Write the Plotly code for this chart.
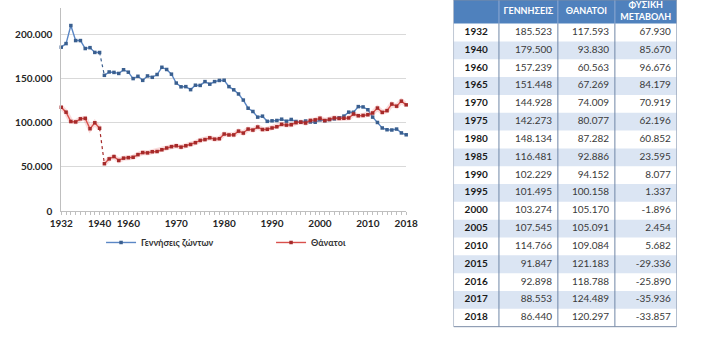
import plotly.graph_objects as go

# Annual series (Greece): 1932-1940 and 1955-2018
years = list(range(1932, 1941)) + list(range(1955, 2019))

births = [
    185523, 189600, 210000, 193000, 193000, 184000, 185000, 179600, 179500,
    153700, 157500, 157000, 155800, 160000, 157239, 150000, 152600, 148000, 153000,
    151448, 154600, 162800, 160300, 155000, 144928, 140700, 140900, 137500, 142500,
    142273, 146600, 143700, 146600, 147900, 148134, 140900, 137300, 132600, 125700,
    116481, 112810, 106392, 107505, 101657, 102229, 102620, 104081, 101799, 103763,
    101495, 100718, 102038, 100894, 100643, 103274, 102282, 103569, 104420, 105655,
    107545, 112042, 111926, 118302, 117933, 114766, 106428, 100371, 94134, 92149,
    91847, 92898, 88553, 86440,
]

deaths = [
    117593, 112000, 101500, 101000, 104500, 105000, 93300, 100000, 93830,
    53700, 59200, 61800, 57400, 60000, 60563, 61000, 64000, 66300, 66000,
    67269, 67500, 69500, 71500, 73000, 74009, 72500, 74000, 75500, 77500,
    80077, 81000, 83000, 81500, 82000, 87282, 86261, 86345, 90586, 88397,
    92886, 91783, 95232, 92407, 92720, 94152, 95498, 98231, 97419, 97807,
    100158, 100740, 99738, 102668, 103304, 105170, 102559, 103915, 105529, 104942,
    105091, 105476, 109895, 107979, 108316, 109084, 111099, 116668, 111794, 113740,
    121183, 118788, 124489, 120297,
]

label_years = [1932, 1940, 1960, 1970, 1980, 1990, 2000, 2010, 2018]
table_years = [1932, 1940, 1960, 1965, 1970, 1975, 1980, 1985, 1990, 1995,
               2000, 2005, 2010, 2015, 2016, 2017, 2018]
table_headers = ["", "ΓΕΝΝΗΣΕΙΣ", "ΘΑΝΑΤΟΙ", "ΦΥΣΙΚΗ<br>ΜΕΤΑΒΟΛΗ"]

BLUE_LINE = "#5B87C5"
BLUE_MARK = "#3A5F8F"
RED_LINE = "#D9504C"
RED_MARK = "#A52A2A"
FONT = "Lato"
W, H = 709, 340

cats = [str(y) for y in years]
gap = years.index(1940)  # last year before the data gap

fig = go.Figure()


def add_series(values, name, line_col, mark_col, glow=False):
    first = slice(0, gap + 1)
    second = slice(gap + 1, None)
    if glow:
        for part in (first, second):
            fig.add_trace(go.Scatter(x=cats[part], y=values[part], mode="lines",
                                     line=dict(color="rgba(230,90,90,0.22)", width=5),
                                     showlegend=False, hoverinfo="skip", cliponaxis=False))
    # dotted link across the missing years
    fig.add_trace(go.Scatter(x=cats[gap:gap + 2], y=values[gap:gap + 2], mode="lines",
                             line=dict(color=mark_col, width=1.2, dash="dot"),
                             showlegend=False, hoverinfo="skip", cliponaxis=False))
    common = dict(mode="lines+markers", line=dict(color=line_col, width=1.4),
                  marker=dict(color=mark_col, size=3.5, symbol="square"),
                  cliponaxis=False, name=f"<b>{name}</b>", legendgroup=name)
    fig.add_trace(go.Scatter(x=cats[first], y=values[first], showlegend=True, **common))
    fig.add_trace(go.Scatter(x=cats[second], y=values[second], showlegend=False, **common))


add_series(births, "Γεννήσεις ζώντων", BLUE_LINE, BLUE_MARK)
add_series(deaths, "Θάνατοι", RED_LINE, RED_MARK, glow=True)

# ---- summary table, drawn on its own pair of axes (units = pixels) ----
def fmt(v):
    return f"{v:,}".replace(",", ".")

idx = [years.index(y) for y in table_years]
t_births = [births[i] for i in idx]
t_deaths = [deaths[i] for i in idx]
t_change = [b - d for b, d in zip(t_births, t_deaths)]

col_w = [47, 61, 59, 64]
edges = [0]
for w in col_w:
    edges.append(edges[-1] + w)
head_h = 24
row_h = 18.15
n_rows = len(table_years)
row_top = [head_h + k * row_h for k in range(n_rows)]
row_mid = [t + row_h / 2 for t in row_top]
table_bottom = head_h + n_rows * row_h
PAD = 6

shapes = []
# header band
shapes.append(dict(type="rect", xref="x2", yref="y2", x0=0, x1=edges[-1], y0=0, y1=head_h,
                   fillcolor="#4F81BD", line=dict(width=0), layer="below"))
# shaded alternate rows
for k, t in enumerate(row_top):
    if k % 2 == 1:
        shapes.append(dict(type="rect", xref="x2", yref="y2", x0=0, x1=edges[-1],
                           y0=t, y1=t + row_h, fillcolor="#DBE5F3",
                           line=dict(width=0), layer="below"))
# column separators
for e in edges[1:-1]:
    shapes.append(dict(type="line", xref="x2", yref="y2", x0=e, x1=e, y0=0, y1=head_h,
                       line=dict(color="#8FAAD3", width=1)))
    shapes.append(dict(type="line", xref="x2", yref="y2", x0=e, x1=e, y0=head_h,
                       y1=table_bottom, line=dict(color="#6F86A6", width=1)))
# outer frame
shapes.append(dict(type="rect", xref="x2", yref="y2", x0=0, x1=edges[-1], y0=0,
                   y1=table_bottom, line=dict(color="#7A8CA6", width=1)))

# header labels
fig.add_trace(go.Scatter(
    x=[(edges[i] + edges[i + 1]) / 2 for i in range(1, 4)], y=[head_h / 2] * 3,
    text=[f"<b>{h}</b>" for h in table_headers[1:]], mode="text",
    textposition="middle center",
    textfont=dict(family=FONT, size=9, color="white"),
    xaxis="x2", yaxis="y2", showlegend=False, hoverinfo="skip"))
# year column
fig.add_trace(go.Scatter(
    x=[(edges[0] + edges[1]) / 2] * n_rows, y=row_mid,
    text=[f"<b>{y}</b>" for y in table_years], mode="text",
    textposition="middle center",
    textfont=dict(family=FONT, size=10, color="#1A1A1A"),
    xaxis="x2", yaxis="y2", showlegend=False, hoverinfo="skip"))
# value columns, right aligned
for ci, vals in enumerate([t_births, t_deaths, t_change], start=2):
    fig.add_trace(go.Scatter(
        x=[edges[ci] - PAD] * n_rows, y=row_mid,
        text=[fmt(v) for v in vals], mode="text",
        textposition="middle left",
        textfont=dict(family=FONT, size=10, color="#3A3A3A"),
        xaxis="x2", yaxis="y2", showlegend=False, hoverinfo="skip", cliponaxis=False))

fig.update_layout(
    width=W, height=H, margin=dict(l=0, r=0, t=0, b=0),
    paper_bgcolor="white", plot_bgcolor="white",
    separators=",.",
    font=dict(family=FONT, color="#404040"),
    showlegend=True,
    shapes=shapes,
    legend=dict(orientation="h", x=0.13, y=0.274, xanchor="left", yanchor="middle",
                font=dict(family=FONT, size=9, color="#333333"),
                entrywidth=125, entrywidthmode="pixels", itemwidth=30,
                bgcolor="rgba(0,0,0,0)"),
    xaxis=dict(
        domain=[51 / W, 408 / W], type="category",
        categoryorder="array", categoryarray=cats, range=[0, len(cats) - 1],
        tickmode="array", tickvals=cats,
        ticktext=[c if int(c) in label_years else "" for c in cats],
        ticks="outside", ticklen=3, tickcolor="#BFBFBF", tickwidth=1,
        showline=True, linecolor="#BFBFBF", linewidth=1, showgrid=False,
        tickfont=dict(family=FONT, size=10, color="#262626", weight="bold"),
        tickangle=0, fixedrange=True,
    ),
    yaxis=dict(
        domain=[125 / H, 332 / H], range=[0, 230000], dtick=50000,
        tickformat=",d", showline=True, linecolor="#BFBFBF", linewidth=1,
        showgrid=True, gridcolor="#D9D9D9", gridwidth=1, zeroline=False,
        ticks="", ticklabelstandoff=6,
        tickfont=dict(family=FONT, size=10, color="#262626", weight="bold"),
        fixedrange=True,
    ),
    xaxis2=dict(domain=[457 / W, (457 + edges[-1]) / W], range=[0, edges[-1]],
                visible=False, fixedrange=True),
    yaxis2=dict(domain=[0, 1], range=[H, 0], visible=False, fixedrange=True,
                anchor="x2"),
)

fig.write_html("out.html")
